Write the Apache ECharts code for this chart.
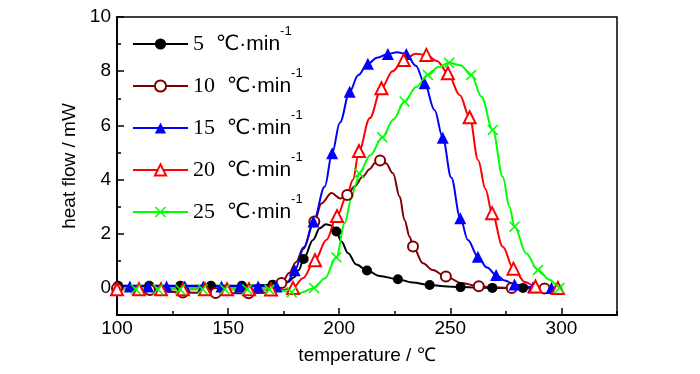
<!DOCTYPE html>
<html><head><meta charset="utf-8">
<script src="https://cdn.jsdelivr.net/npm/echarts@6/dist/echarts.min.js"></script>
<style>html,body{margin:0;padding:0;background:#fff}#c{width:700px;height:374px}</style>
</head><body><div id="c"></div>
<script>
// ---- data (temperature °C, heat flow mW) ----
const rateLabels = ['5', '10', '15', '20', '25'];
const unitLabel = '℃·min';
const supLabel = '-1';
const xTicksMajor = [100, 150, 200, 250, 300];

// 5 ℃/min
const marks5 = [[100.5,0.08],[114.5,0.08],[128.5,0.08],[142.3,0.08],[156.2,0.08],[170.0,0.12],[184.0,1.07],[198.7,2.08],[212.5,0.64],[226.4,0.32],[240.7,0.11],[254.6,0.03],[268.9,0.0],[282.7,0.0]];
const curve5 = [[100,0.08],[174,0.14],[177,0.22],[179.5,0.38],[181.8,0.66],[188.2,1.77],[191.2,2.2],[194,2.35],[196.5,2.3],[201,1.71],[204,1.28],[207.7,0.86],[218.2,0.44],[233,0.2],[247,0.06],[262,0.01],[285,0]];
// 10 ℃/min
const marks10 = [[100.0,-0.02],[114.8,-0.08],[129.6,-0.17],[144.4,-0.19],[159.2,-0.2],[174.0,0.18],[188.8,2.45],[203.6,3.43],[218.4,4.70],[233.2,1.53],[248.0,0.42],[262.8,0.06],[277.6,0.0],[292.4,-0.02]];
const curve10 = [[122,-0.13],[167,-0.18],[170.5,-0.08],[177.5,0.55],[180.5,0.95],[184,1.5],[192,3.12],[196.5,3.5],[200.5,3.3],[207,3.75],[210.5,4.1],[213.7,4.38],[216,4.6],[221,4.6],[224.2,4.23],[227.2,3.37],[229.4,2.5],[231.7,1.89],[237.7,0.91],[242,0.66],[255,0.18],[270,0.02],[297,-0.02]];
// 15 ℃/min
const marks15 = [[105.8,0.05],[114.0,0.05],[122.3,0.05],[130.5,0.05],[138.8,0.05],[147.0,0.05],[155.3,0.05],[163.5,0.05],[171.8,0.05],[180.0,0.65],[188.4,2.45],[196.8,4.97],[204.7,7.24],[212.9,8.27],[221.9,8.63],[230.2,8.63],[238.4,7.55],[246.6,5.54],[254.5,2.57],[262.4,1.15],[270.6,0.48],[278.9,0.13],[287.2,0.02],[295.5,0.0]];
const curve15 = [[100,0.05],[174.5,0.07],[177,0.25],[184,1.45],[193.5,3.74],[200.3,6.1],[208.5,7.85],[217,8.5],[226,8.7],[234.5,8.2],[242.9,6.57],[250.4,4.08],[257.9,1.77],[266.5,0.75],[274.5,0.27],[297,0]];
// 20 ℃/min
const marks20 = [[100.0,-0.05],[109.9,-0.05],[119.8,-0.05],[129.7,-0.05],[139.6,-0.05],[149.5,-0.05],[159.4,-0.05],[169.3,-0.06],[179.2,0.0],[189.1,1.02],[199.0,2.65],[208.9,5.05],[219.0,7.37],[229.0,8.41],[239.2,8.6],[248.9,7.92],[258.7,6.3],[268.8,2.76],[278.4,0.71],[288.3,0.05],[298.4,0.0]];
const curve20 = [[174.5,-0.07],[183.7,0.36],[194.2,1.77],[203.5,3.42],[206.2,3.99],[213.7,6.26],[224,8.0],[234.5,8.64],[244,8.38],[254.2,7.12],[262.5,4.72],[265.8,3.65],[273.6,1.52],[283.5,0.22],[300,0]];
// 25 ℃/min
const marks25 = [[108.4,-0.05],[118.4,-0.05],[128.4,-0.05],[138.5,-0.05],[148.5,-0.05],[158.6,-0.05],[168.6,-0.06],[178.6,-0.16],[188.7,0.0],[198.7,1.13],[209.0,4.23],[219.4,5.56],[229.4,6.88],[239.9,7.86],[249.5,8.31],[259.4,7.86],[269.1,5.83],[278.9,2.26],[289.4,0.66],[299.1,0.0]];
const curve25 = [[100,-0.05],[173,-0.09],[182.5,-0.19],[193.5,0.35],[202.5,2.4],[205.5,3.3],[207.3,3.8],[214,4.9],[224.4,6.22],[234.6,7.42],[244.6,8.15],[254.5,8.22],[264,7.06],[273.6,4.1],[276.6,3.0],[284.1,1.28],[294.6,0.3],[300,0]];

// ---- build ----
function build(curve, marks) {
  const pts = curve.map(p => ({ value: p, symbol: 'none' }))
    .concat(marks.map(p => ({ value: p })));
  pts.sort((a, b) => a.value[0] - b.value[0]);
  return pts;
}
const xPath = 'path://M0,1L1,0L5,4L9,0L10,1L6,5L10,9L9,10L5,6L1,10L0,9L4,5Z';
const styles = [
  { color: '#000000', symbol: 'circle', size: 10, bw: 0 },
  { color: '#800000', symbol: 'emptyCircle', size: 10, bw: 1 },
  { color: '#0000ff', symbol: 'triangle', size: 12, bw: 0 },
  { color: '#ff0000', symbol: 'emptyTriangle', size: 12, bw: 1 },
  { color: '#00ff00', symbol: xPath, size: 11, bw: 0 }
];
const sets = [[curve5, marks5], [curve10, marks10], [curve15, marks15], [curve20, marks20], [curve25, marks25]];
const names = rateLabels.map(r => r + ' ' + unitLabel + supLabel);

const series = sets.map((s, i) => ({
  name: names[i], type: 'line', data: build(s[0], s[1]),
  smooth: 0.35, smoothMonotone: 'x', showAllSymbol: true,
  symbol: styles[i].symbol, symbolSize: styles[i].size,
  color: styles[i].color,
  lineStyle: { color: styles[i].color, width: 2 },
  itemStyle: { color: styles[i].color, borderColor: styles[i].color, borderWidth: styles[i].bw },
  xAxisIndex: 0, yAxisIndex: 0, animation: false, silent: true
}));

const sans = '"Liberation Sans", Arial, sans-serif';
const axisLine = { show: true, onZero: false, lineStyle: { color: '#000', width: 1.5 } };
const chart = echarts.init(document.getElementById('c'), null, { renderer: 'canvas' });
chart.setOption({
  backgroundColor: '#fff',
  animation: false,
  grid: { left: 117, right: 83, top: 17, bottom: 59, show: true, borderColor: '#000', borderWidth: 1.5 },
  legend: {
    orient: 'vertical', left: 132, top: 25, padding: 0,
    itemWidth: 55, itemHeight: 14, itemGap: 12,
    data: names,
    formatter: name => '{n|' + name.split(' ')[0] + '}{u|  ' + unitLabel + '}{s|' + supLabel + '}',
    textStyle: {
      rich: {
        n: { fontFamily: '"Liberation Serif", serif', fontSize: 22, color: '#000', lineHeight: 38 },
        u: { fontFamily: '"Liberation Sans", "DejaVu Sans", sans-serif', fontSize: 21, color: '#000', lineHeight: 38 },
        s: { fontFamily: sans, fontSize: 13, color: '#000', lineHeight: 12, verticalAlign: 'top' }
      }
    }
  },
  xAxis: [
    { type: 'value', min: 100, max: 325, interval: 25, axisLine: axisLine,
      axisTick: { inside: true, length: 4, lineStyle: { color: '#000', width: 1.5 } },
      axisLabel: { show: false }, splitLine: { show: false } },
    { type: 'value', min: 100, max: 325, interval: 50, position: 'bottom', axisLine: axisLine,
      axisTick: { inside: true, length: 7, lineStyle: { color: '#000', width: 1.5 } },
      axisLabel: { color: '#000', fontSize: 19, fontFamily: sans, margin: 4, showMaxLabel: false,
        formatter: v => (xTicksMajor.indexOf(v) >= 0 ? String(v) : '') },
      splitLine: { show: false },
      name: 'temperature / ℃', nameLocation: 'middle', nameGap: 31,
      nameTextStyle: { color: '#000', fontSize: 19, fontFamily: sans } }
  ],
  yAxis: [
    { type: 'value', min: -1, max: 10, interval: 1, axisLine: axisLine,
      axisTick: { inside: true, length: 4, lineStyle: { color: '#000', width: 1.5 } },
      axisLabel: { show: false }, splitLine: { show: false } },
    { type: 'value', min: -1, max: 10, splitNumber: 5, position: 'left', axisLine: axisLine,
      axisTick: { inside: true, length: 7, lineStyle: { color: '#000', width: 1.5 } },
      axisLabel: { color: '#000', fontSize: 19, fontFamily: sans, margin: 6,
        formatter: v => (v < 0 ? '' : String(v)) },
      splitLine: { show: false },
      name: 'heat flow / mW', nameLocation: 'middle', nameGap: 33,
      nameTextStyle: { color: '#000', fontSize: 19, fontFamily: sans } }
  ],
  series: series
});
</script></body></html>
